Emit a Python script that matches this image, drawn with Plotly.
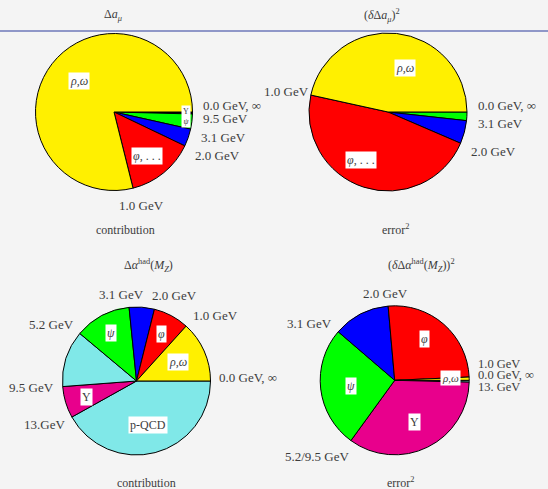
import plotly.graph_objects as go

W, H = 548, 489

# ---- data -------------------------------------------------------------
# Δa_μ : share of each energy range (clockwise from 0 GeV / ∞)
amu_slices = ["Υ", "ψ", "2.0–3.1 GeV", "φ,...", "ρ,ω"]
amu_contribution = [0.4, 3.1, 3.6, 14.0, 78.9]
amu_colors = ["#000000", "#00ff00", "#0000ff", "#ff0000", "#fff000"]

# (δΔa_μ)² : share of the squared error (clockwise from 0 GeV / ∞)
amu_err_slices = ["ψ", "2.0–3.1 GeV", "φ,...", "ρ,ω"]
amu_error2 = [1.75, 4.72, 46.97, 46.56]
amu_err_colors = ["#00ff00", "#0000ff", "#ff0000", "#fff000"]

# Δα^had(M_Z) : share of each energy range (counter-clockwise from 0 GeV / ∞)
alpha_slices = ["ρ,ω", "φ", "2.0–3.1 GeV", "ψ", "5.2–9.5 GeV", "Υ", "p-QCD"]
alpha_contribution = [13.3, 7.8, 5.5, 12.3, 12.3, 6.9, 41.9]
alpha_colors = ["#fff000", "#ff0000", "#0000ff", "#00ff00", "#80e8e8", "#e8008c", "#80e8e8"]

# (δΔα^had(M_Z))² : share of the squared error (counter-clockwise)
alpha_err_slices = ["ρ,ω", "φ", "2.0–3.1 GeV", "ψ", "Υ", "p-QCD"]
alpha_error2 = [0.7, 25.7, 12.3, 26.3, 34.6, 0.4]
alpha_err_colors = ["#fff000", "#ff0000", "#0000ff", "#00ff00", "#e8008c", "#80e8e8"]

TXT = "#3c3c3c"
FONT = "Liberation Serif"


def dom(cx, cy, r):
    return dict(x=[(cx - r) / W, (cx + r) / W], y=[1 - (cy + r) / H, 1 - (cy - r) / H])


def pie(labels, values, colors, cx, cy, r, ccw=False):
    # plotly's counter-clockwise pies end the first slice at the start angle,
    # so walk the list backwards clockwise instead: both start at 3 o'clock
    if ccw:
        labels, values, colors = labels[::-1], values[::-1], colors[::-1]
    return go.Pie(
        labels=labels, values=values, sort=False, direction="clockwise", rotation=90,
        marker=dict(colors=colors, line=dict(color="#000000", width=1)),
        textinfo="none", hoverinfo="label+percent", showlegend=False,
        domain=dom(cx, cy, r),
    )


fig = go.Figure()
fig.add_trace(pie(amu_slices, amu_contribution, amu_colors, 114, 112, 78.5))
fig.add_trace(pie(amu_err_slices, amu_error2, amu_err_colors, 388, 112, 79))
fig.add_trace(pie(alpha_slices, alpha_contribution, alpha_colors, 136.5, 381, 74, ccw=True))
fig.add_trace(pie(alpha_err_slices, alpha_error2, alpha_err_colors, 394.7, 380.3, 74.5, ccw=True))

annotations = []


def label(text, px, py, anchor="left", size=13, box=False):
    a = dict(text=text, x=px / W, y=1 - py / H, xref="paper", yref="paper",
             xanchor=anchor, yanchor="middle", showarrow=False,
             font=dict(family=FONT, size=size, color=TXT))
    if box:
        a.update(bgcolor="#ffffff", borderpad=1)
    annotations.append(a)


# titles and captions
label("Δ<i>a</i><sub><i>μ</i></sub>", 113, 15, "center", 12)
label("(<i>δ</i>Δ<i>a</i><sub><i>μ</i></sub>)<sup>2</sup>", 382, 15, "center", 12)
label("Δ<i>α</i><sup>had</sup>(<i>M</i><sub><i>Z</i></sub>)", 148, 265, "center", 12)
label("(<i>δ</i>Δ<i>α</i><sup>had</sup>(<i>M</i><sub><i>Z</i></sub>))<sup>2</sup>", 421, 265, "center", 12)
label("contribution", 125, 230, "center", 12)
label("error<sup>2</sup>", 396, 229, "center", 12)
label("contribution", 146, 483, "center", 12)
label("error<sup>2</sup>", 401, 482, "center", 12)

# boundary energies, Δa_μ
label("0.0 GeV, ∞", 201, 106)
label("9.5 GeV", 201, 118)
label("3.1 GeV", 199, 137)
label("2.0 GeV", 193, 155)
label("1.0 GeV", 141, 205, "center")
# boundary energies, (δΔa_μ)²
label("1.0 GeV", 311, 91, "right")
label("0.0 GeV, ∞", 476, 106)
label("3.1 GeV", 476, 124)
label("2.0 GeV", 469, 151)
# boundary energies, Δα^had
label("0.0 GeV, ∞", 217, 377)
label("1.0 GeV", 191, 315)
label("2.0 GeV", 150, 295)
label("3.1 GeV", 97, 294)
label("5.2 GeV", 27, 324)
label("9.5 GeV", 7, 387)
label("13.GeV", 22, 424)
# boundary energies, (δΔα^had)²
label("2.0 GeV", 361, 293)
label("3.1 GeV", 285, 323)
label("1.0 GeV", 476, 364, size=12.5)
label("0.0 GeV, ∞", 476, 375, size=12.5)
label("13. GeV", 476, 387, size=12.5)
label("5.2/9.5 GeV", 283, 456)

# slice names
label("<i>ρ</i>,<i>ω</i>", 79, 81, "center", 12, True)
label("<i>φ</i>, . . .", 147, 156, "center", 12, True)
label("Υ<br><i>ψ</i>", 186, 117, "center", 8, True)
label("<i>ρ</i>,<i>ω</i>", 405, 68, "center", 12, True)
label("<i>φ</i>, . . .", 361, 160, "center", 12, True)
label("<i>ψ</i>", 111, 333, "center", 12, True)
label("<i>φ</i>", 161, 334, "center", 12, True)
label("<i>ρ</i>,<i>ω</i>", 178, 362, "center", 12, True)
label("Υ", 86, 397, "center", 12, True)
label("p-QCD", 148, 425, "center", 12, True)
label("<i>φ</i>", 424, 339, "center", 12, True)
label("<i>ψ</i>", 351, 386, "center", 12, True)
label("Υ", 414, 422, "center", 12, True)
label("<i>ρ</i>,<i>ω</i>", 450, 378, "center", 11, True)

fig.update_layout(
    width=W, height=H, margin=dict(l=0, r=0, t=0, b=0),
    paper_bgcolor="#f4f4f4", plot_bgcolor="#f4f4f4",
    annotations=annotations,
    shapes=[dict(type="line", xref="paper", yref="paper", x0=0, x1=1,
                 y0=1 - 31 / H, y1=1 - 31 / H, line=dict(color="#2a3a9c", width=1))],
)

fig.write_html("out.html")
